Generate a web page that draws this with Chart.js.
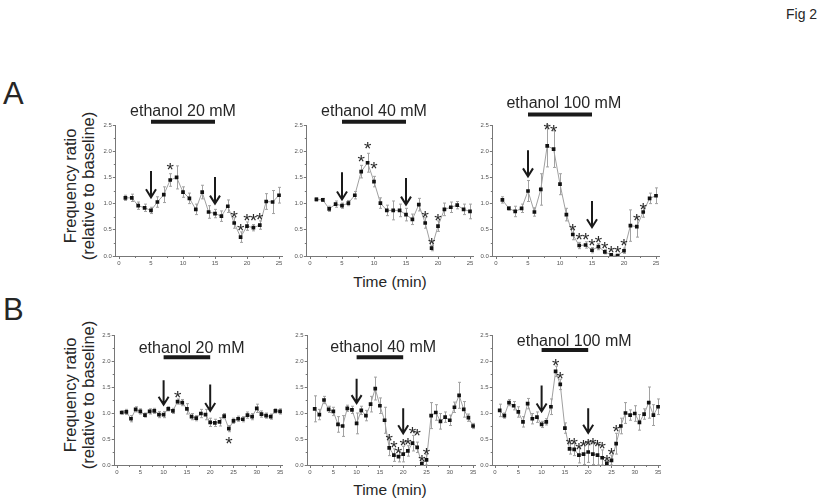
<!DOCTYPE html>
<html><head><meta charset="utf-8">
<script src="https://cdn.jsdelivr.net/npm/chart.js@4"></script>
<style>
body{margin:0;width:827px;height:500px;background:#fff;position:relative;overflow:hidden;font-family:"Liberation Sans",Arial,sans-serif;color:#262626}
canvas{position:absolute;left:0;top:0}
.lbl{position:absolute;white-space:nowrap;line-height:1}
.ylab{position:absolute;white-space:nowrap;text-align:center;font-size:16.5px;line-height:18px;transform:translate(-50%,-50%) rotate(-90deg)}
.xlab{position:absolute;white-space:nowrap;font-size:15.5px;transform:translate(-50%,-50%)}
</style></head><body>
<div class="lbl" style="left:786px;top:7px;font-size:14px">Fig 2</div>
<div class="lbl" style="left:3px;top:78px;font-size:31px">A</div>
<div class="lbl" style="left:3px;top:294px;font-size:31px">B</div>
<div class="ylab" style="left:79px;top:186px">Frequency ratio<br>(relative to baseline)</div>
<div class="ylab" style="left:79px;top:395px">Frequency ratio<br>(relative to baseline)</div>
<div class="xlab" style="left:390px;top:282px">Time (min)</div>
<div class="xlab" style="left:390px;top:490px">Time (min)</div>
<script>
// ---------- data ----------
const timeA = [1,2,3,4,5,6,7,8,9,10,11,12,13,14,15,16,17,18,19,20,21,22,23,24,25];
const timeB = [1,2,3,4,5,6,7,8,9,10,11,12,13,14,15,16,17,18,19,20,21,22,23,24,25,26,27,28,29,30,31,32,33,34,35];
const xTicksA = [0,5,10,15,20,25];
const xTicksB = [0,5,10,15,20,25,30,35];
const yTicks = [0,0.5,1.0,1.5,2.0,2.5];

const titleA20 = 'ethanol 20 mM', titleA40 = 'ethanol 40 mM', titleA100 = 'ethanol 100 mM';
const titleB20 = 'ethanol 20 mM', titleB40 = 'ethanol 40 mM', titleB100 = 'ethanol 100 mM';
const ethanolA = [5, 15];
const ethanolB = [10, 20];

// A: 20 mM
const ratioA20 = [1.11,1.11,0.96,0.92,0.87,1.03,1.17,1.45,1.50,1.22,1.10,0.89,1.22,0.84,0.81,0.76,0.95,0.63,0.36,0.57,0.54,0.59,1.04,1.03,1.16];
const semA20   = [0.05,0.07,0.07,0.07,0.06,0.10,0.15,0.12,0.22,0.10,0.10,0.10,0.13,0.12,0.08,0.10,0.12,0.10,0.10,0.08,0.06,0.08,0.15,0.22,0.15];
const starXA20 = [8,18,19,20,21,22];
const starYA20 = [1.72,0.81,0.57,0.75,0.75,0.78];
const arrowXA20 = [5,15], arrowTopA20 = [1.62,1.51], arrowTipA20 = [1.12,1.00];

// A: 40 mM
const ratioA40 = [1.08,1.07,0.90,0.99,0.96,1.01,1.16,1.61,1.78,1.42,1.01,0.87,0.87,0.87,0.79,0.70,0.98,0.63,0.15,0.57,0.89,0.93,0.97,0.89,0.85];
const semA40   = [0.03,0.03,0.05,0.06,0.05,0.05,0.07,0.12,0.18,0.10,0.10,0.10,0.18,0.12,0.12,0.10,0.12,0.10,0.05,0.10,0.12,0.10,0.07,0.10,0.14];
const starXA40 = [8,9,10,18,19,20];
const starYA40 = [1.88,2.12,1.75,0.82,0.30,0.75];
const arrowXA40 = [5,15], arrowTopA40 = [1.60,1.49], arrowTipA40 = [1.08,0.98];

// A: 100 mM
const ratioA100 = [1.07,0.91,0.85,0.91,1.24,0.84,1.27,2.10,2.04,1.37,0.79,0.41,0.20,0.21,0.11,0.18,0.08,0.02,0.01,0.10,0.58,0.56,0.84,1.10,1.15];
const semA100   = [0.06,0.03,0.10,0.08,0.20,0.08,0.30,0.40,0.35,0.20,0.12,0.10,0.06,0.06,0.05,0.06,0.04,0.02,0.02,0.05,0.30,0.20,0.10,0.10,0.15];
const starXA100 = [8,9,12,13,14,15,16,17,18,19,20,22,23];
const starYA100 = [2.50,2.45,0.57,0.40,0.40,0.27,0.33,0.22,0.15,0.15,0.28,0.76,0.96];
const arrowXA100 = [5,15], arrowTopA100 = [2.02,1.05], arrowTipA100 = [1.52,0.55];

// B: 20 mM
const ratioB20 = [1.01,1.02,0.89,1.07,1.03,0.96,1.03,1.04,0.97,0.97,1.08,1.04,1.22,1.20,1.08,0.93,0.90,0.99,0.97,0.82,0.81,0.83,0.94,0.70,0.85,0.89,0.88,0.96,0.93,1.09,0.98,0.95,0.93,1.04,1.03];
const semB20   = [0.03,0.05,0.06,0.05,0.05,0.04,0.05,0.05,0.06,0.06,0.04,0.05,0.05,0.06,0.10,0.06,0.05,0.08,0.10,0.08,0.07,0.08,0.05,0.06,0.05,0.05,0.05,0.06,0.06,0.08,0.06,0.05,0.05,0.04,0.05];
const starXB20 = [13,24];
const starYB20 = [1.37,0.50];
const arrowXB20 = [10,20], arrowTopB20 = [1.63,1.55], arrowTipB20 = [1.16,1.04];

// B: 40 mM
const ratioB40 = [1.08,0.97,1.25,1.07,1.03,0.78,0.75,1.09,1.06,0.80,1.05,0.95,1.17,1.47,1.14,0.86,0.33,0.19,0.16,0.21,0.27,0.42,0.34,0.02,0.10,0.95,1.01,0.84,0.92,0.86,1.11,1.34,1.07,0.91,0.75];
const semB40   = [0.25,0.10,0.07,0.06,0.08,0.15,0.20,0.06,0.07,0.20,0.08,0.10,0.15,0.22,0.15,0.25,0.15,0.12,0.10,0.15,0.10,0.15,0.10,0.05,0.10,0.25,0.15,0.15,0.10,0.10,0.10,0.25,0.15,0.07,0.05];
const starXB40 = [17,18,19,20,21,22,23,24,25];
const starYB40 = [0.55,0.42,0.30,0.45,0.48,0.68,0.64,0.15,0.28];
const arrowXB40 = [10,20], arrowTopB40 = [1.66,1.09], arrowTipB40 = [1.19,0.61];

// B: 100 mM
const ratioB100 = [1.05,0.95,1.20,1.14,1.02,0.83,1.18,0.89,0.92,0.78,0.83,1.12,1.80,1.55,0.71,0.31,0.30,0.19,0.21,0.25,0.21,0.19,0.14,0.03,0.09,0.41,0.75,1.00,0.96,0.99,0.82,0.98,1.20,0.96,1.12];
const semB100   = [0.12,0.05,0.06,0.08,0.10,0.10,0.10,0.10,0.10,0.06,0.06,0.15,0.10,0.10,0.10,0.10,0.12,0.15,0.20,0.20,0.20,0.20,0.15,0.05,0.10,0.20,0.15,0.20,0.10,0.15,0.15,0.10,0.30,0.20,0.15];
const starXB100 = [13,14,16,17,18,19,20,21,22,23,24,25,26];
const starYB100 = [2.00,1.75,0.48,0.48,0.38,0.44,0.46,0.47,0.44,0.40,0.14,0.27,0.72];
const arrowXB100 = [10,20], arrowTopB100 = [1.53,1.09], arrowTipB100 = [1.03,0.62];

// ---------- layout (pixels) & annotation placement ----------
const panels = [
  {t:timeA, v:ratioA20, e:semA20, sx:starXA20, sy:starYA20, ax:arrowXA20, at:arrowTopA20, ap:arrowTipA20, xt:xTicksA, xmax:25, bar:ethanolA, title:titleA20, titleX:10, titleY:2.75, barY:2.56, L:115.8, R:282.2, T:125, B:256},
  {t:timeA, v:ratioA40, e:semA40, sx:starXA40, sy:starYA40, ax:arrowXA40, at:arrowTopA40, ap:arrowTipA40, xt:xTicksA, xmax:25, bar:ethanolA, title:titleA40, titleX:10, titleY:2.75, barY:2.56, L:306.8, R:473.2, T:125, B:256},
  {t:timeA, v:ratioA100, e:semA100, sx:starXA100, sy:starYA100, ax:arrowXA100, at:arrowTopA100, ap:arrowTipA100, xt:xTicksA, xmax:25, bar:ethanolA, title:titleA100, titleX:10.6, titleY:2.9, barY:2.7, L:492.8, R:659.2, T:125, B:256},
  {t:timeB, v:ratioB20, e:semB20, sx:starXB20, sy:starYB20, ax:arrowXB20, at:arrowTopB20, ap:arrowTipB20, xt:xTicksB, xmax:35, bar:ethanolB, title:titleB20, titleX:16, titleY:2.24, barY:2.07, L:114.7, R:282.4, T:335, B:465},
  {t:timeB, v:ratioB40, e:semB40, sx:starXB40, sy:starYB40, ax:arrowXB40, at:arrowTopB40, ap:arrowTipB40, xt:xTicksB, xmax:35, bar:ethanolB, title:titleB40, titleX:15.7, titleY:2.26, barY:2.07, L:307.7, R:475.4, T:335, B:465},
  {t:timeB, v:ratioB100, e:semB100, sx:starXB100, sy:starYB100, ax:arrowXB100, at:arrowTopB100, ap:arrowTipB100, xt:xTicksB, xmax:35, bar:ethanolB, title:titleB100, titleX:17, titleY:2.37, barY:2.21, L:492.7, R:660.4, T:335, B:465}
];

Chart.defaults.font.family = '"Liberation Sans", Arial, sans-serif';
const AXW = 24, AXH = 14;

function makePlugin(p) {
  return {
    id: 'annot',
    beforeDatasetsDraw(chart) {
      const ctx = chart.ctx, xs = chart.scales.x, ys = chart.scales.y;
      ctx.save();
      ctx.strokeStyle = '#a2a2a2'; ctx.lineWidth = 1;
      p.t.forEach((t, i) => {
        const x = Math.round(xs.getPixelForValue(t)) + 0.5;
        const y1 = ys.getPixelForValue(p.v[i] + p.e[i]);
        const y2 = ys.getPixelForValue(Math.max(0, p.v[i] - p.e[i]));
        ctx.beginPath();
        ctx.moveTo(x, y1); ctx.lineTo(x, y2);
        ctx.moveTo(x - 1.5, y1); ctx.lineTo(x + 1.5, y1);
        ctx.moveTo(x - 1.5, y2); ctx.lineTo(x + 1.5, y2);
        ctx.stroke();
      });
      ctx.restore();
    },
    afterDraw(chart) {
      const ctx = chart.ctx, xs = chart.scales.x, ys = chart.scales.y, ca = chart.chartArea;
      ctx.save();
      // minor ticks
      ctx.strokeStyle = '#777'; ctx.lineWidth = 1;
      ctx.beginPath();
      for (let k = 0; k < yTicks.length - 1; k++) {
        const y = Math.round(ys.getPixelForValue((yTicks[k] + yTicks[k + 1]) / 2)) + 0.5;
        ctx.moveTo(ca.left - 2, y); ctx.lineTo(ca.left, y);
      }
      for (let k = 0; k < p.xt.length - 1; k++) {
        const x = Math.round(xs.getPixelForValue((p.xt[k] + p.xt[k + 1]) / 2)) + 0.5;
        ctx.moveTo(x, ca.bottom); ctx.lineTo(x, ca.bottom + 2);
      }
      ctx.stroke();
      // asterisks
      ctx.fillStyle = '#2a2a2a';
      ctx.font = '19px "Liberation Sans", Arial, sans-serif';
      ctx.textAlign = 'center'; ctx.textBaseline = 'alphabetic';
      p.sx.forEach((sx, i) => {
        ctx.fillText('*', xs.getPixelForValue(sx), ys.getPixelForValue(p.sy[i]) + 10.5);
      });
      // arrows
      ctx.strokeStyle = '#1a1a1a'; ctx.lineWidth = 2;
      p.ax.forEach((ax, i) => {
        const x = xs.getPixelForValue(ax);
        const y0 = ys.getPixelForValue(p.at[i]);
        const y1 = ys.getPixelForValue(p.ap[i]);
        ctx.beginPath();
        ctx.moveTo(x, y0); ctx.lineTo(x, y1);
        ctx.moveTo(x - 5, y1 - 8); ctx.lineTo(x, y1); ctx.lineTo(x + 5, y1 - 8);
        ctx.stroke();
      });
      // ethanol bar
      ctx.lineWidth = 4; ctx.strokeStyle = '#1a1a1a';
      const by = ys.getPixelForValue(p.barY);
      ctx.beginPath();
      ctx.moveTo(xs.getPixelForValue(p.bar[0]), by);
      ctx.lineTo(xs.getPixelForValue(p.bar[1]), by);
      ctx.stroke();
      // title
      ctx.fillStyle = '#262626';
      ctx.font = '16px "Liberation Sans", Arial, sans-serif';
      ctx.textAlign = 'center'; ctx.textBaseline = 'middle';
      ctx.fillText(p.title, xs.getPixelForValue(p.titleX), ys.getPixelForValue(p.titleY));
      ctx.restore();
    }
  };
}

function makePanel(p) {
  const cv = document.createElement('canvas');
  cv.width = 827; cv.height = 500;
  cv.style.width = '827px'; cv.style.height = '500px';
  document.body.appendChild(cv);
  const axisCommon = {
    grid: {drawOnChartArea: false, drawTicks: true, tickLength: 3, color: '#777', lineWidth: 1},
    border: {color: '#777', width: 1},
  };
  new Chart(cv, {
    type: 'line',
    data: {datasets: [{
      data: p.t.map((t, i) => ({x: t, y: p.v[i]})),
      borderColor: '#a0a0a0', borderWidth: 1, tension: 0,
      pointStyle: 'rect', pointRadius: 2.6, pointBackgroundColor: '#111', pointBorderWidth: 0
    }]},
    options: {
      responsive: false, animation: false, devicePixelRatio: 1,
      layout: {padding: {left: p.L - AXW, top: p.T, right: 827 - p.R, bottom: 500 - p.B - AXH}},
      plugins: {legend: {display: false}, tooltip: {enabled: false}},
      scales: {
        x: Object.assign({
          type: 'linear', min: -0.5, max: p.xmax + 0.5,
          afterFit(s) { s.height = AXH; },
          afterBuildTicks(s) { s.ticks = p.xt.map(v => ({value: v})); },
          ticks: {font: {size: 6}, color: '#555', padding: 1, maxRotation: 0, autoSkip: false, callback: v => String(v)}
        }, axisCommon),
        y: Object.assign({
          min: 0, max: 2.5,
          afterFit(s) { s.width = AXW; },
          afterBuildTicks(s) { s.ticks = yTicks.map(v => ({value: v})); },
          ticks: {font: {size: 6}, color: '#555', padding: 1, autoSkip: false, callback: v => Number(v).toFixed(1)}
        }, axisCommon)
      }
    },
    plugins: [makePlugin(p)]
  });
}

panels.forEach(makePanel);
</script>
</body></html>
